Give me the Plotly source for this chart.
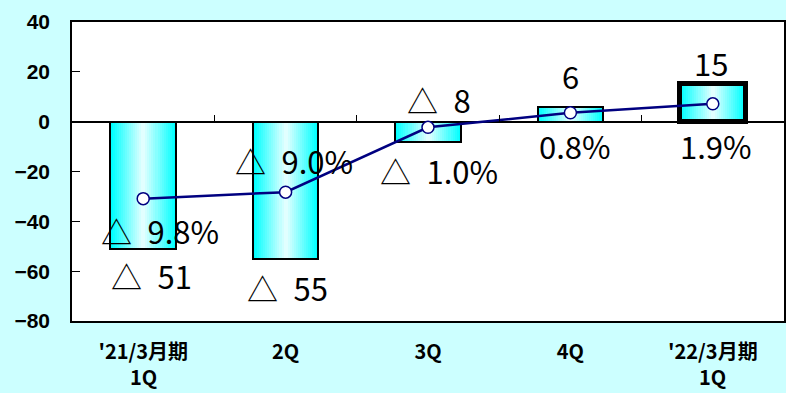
import plotly.graph_objects as go

# data
categories = ["'21/3月期<br>1Q", "2Q", "3Q", "4Q", "'22/3月期<br>1Q"]
profit = [-51, -55, -8, 6, 15]          # bars
margin_pct = [-9.8, -9.0, -1.0, 0.8, 1.9]  # line, on hidden 2nd axis
y_ticks = [-80, -60, -40, -20, 0, 20, 40]

x = list(range(len(categories)))

# label placement (category index, y on primary axis)
profit_lbl_pos = [(0.06, -61.6), (1.01, -66.4), (2.08, 8.7), (3.0, 18.7), (3.99, 23.6)]
pct_lbl_pos = [(0.12, -43.5), (1.06, -15.4), (2.08, -19.4), (3.03, -9.4), (4.02, -9.4)]


def fmt(v, pct=False):
    # japanese reports write negatives with a triangle
    s = f"{abs(v):.1f}%" if pct else f"{abs(v):g}"
    return "△\u2002" + s if v < 0 else s


fig = go.Figure()

# fake horizontal gradient: nested bars getting paler towards the middle
bar_w = 0.46
steps = 16
for k in range(steps):
    t = k / (steps - 1)
    r = int(225 * t)
    fig.add_trace(go.Bar(
        x=x, y=profit, width=bar_w * (1 - k / steps),
        marker=dict(color=f"rgb({r},255,255)", line=dict(width=0)),
        hoverinfo="skip", showlegend=False))

# outline on top
fig.add_trace(go.Bar(
    x=x, y=profit, width=bar_w,
    marker=dict(color="rgba(0,0,0,0)",
                line=dict(color="black", width=[2, 2, 2, 2, 5])),
    showlegend=False))

fig.add_trace(go.Scatter(
    x=x, y=margin_pct, xaxis="x2", yaxis="y2", mode="lines+markers",
    line=dict(color="#000080", width=2.5),
    marker=dict(size=12, color="white", line=dict(color="#000080", width=1.5)),
    showlegend=False))

annos = []
for (px, py), v in zip(profit_lbl_pos, profit):
    annos.append(dict(x=px, y=py, text=fmt(v), showarrow=False))
for (px, py), v in zip(pct_lbl_pos, margin_pct):
    annos.append(dict(x=px, y=py, text=fmt(v, True), showarrow=False))
for a in annos:
    a.update(xref="x", yref="y", font=dict(family="Noto Sans CJK JP", size=31, color="black"))

# category labels: first line as tick text, second line as its own text
# (plotly's <br> spacing is tighter than the reference)
xfont = dict(family="Noto Sans CJK JP", size=20, color="black", weight="bold")
first_lines = [c.split("<br>")[0] for c in categories]
for i, c in enumerate(categories):
    parts = c.split("<br>")
    if len(parts) > 1:
        annos.append(dict(x=i, xref="x", y=-0.185, yref="paper", yanchor="middle",
                          text=parts[1], showarrow=False, font=xfont))

fig.update_layout(
    width=786, height=393,
    margin=dict(l=72, r=0, t=22, b=72),
    paper_bgcolor="#CCFFFF", plot_bgcolor="white",
    barmode="overlay", bargap=0,
    annotations=annos,
    xaxis=dict(range=[-0.5, 4.5], tickvals=x, ticktext=first_lines,
               tickfont=xfont, ticklabelstandoff=12,
               showline=True, linecolor="black", linewidth=1.5, mirror=True,
               showgrid=False, zeroline=False, ticks=""),
    xaxis2=dict(range=[-0.5, 4.5], overlaying="x", anchor="free", position=80 / 120,
                side="top", tickvals=[0.5, 1.5, 2.5, 3.5], ticks="outside", ticklen=7,
                tickcolor="black", tickwidth=1, showticklabels=False,
                showgrid=False, zeroline=False, showline=False),
    yaxis=dict(range=[-80, 40], tickvals=y_ticks, ticks="inside", ticklen=8,
               tickcolor="black",
               tickfont=dict(family="Liberation Sans", size=21, color="black", weight="bold"),
               ticklabelstandoff=16,
               showline=True, linecolor="black", linewidth=1.5, mirror=True,
               showgrid=False, zeroline=True, zerolinecolor="black", zerolinewidth=1.5),
    yaxis2=dict(range=[-24.9, 12.0], overlaying="y", visible=False),
)

fig.write_html("out.html", config={"displayModeBar": False},
               post_script="document.body.style.margin='0';")
